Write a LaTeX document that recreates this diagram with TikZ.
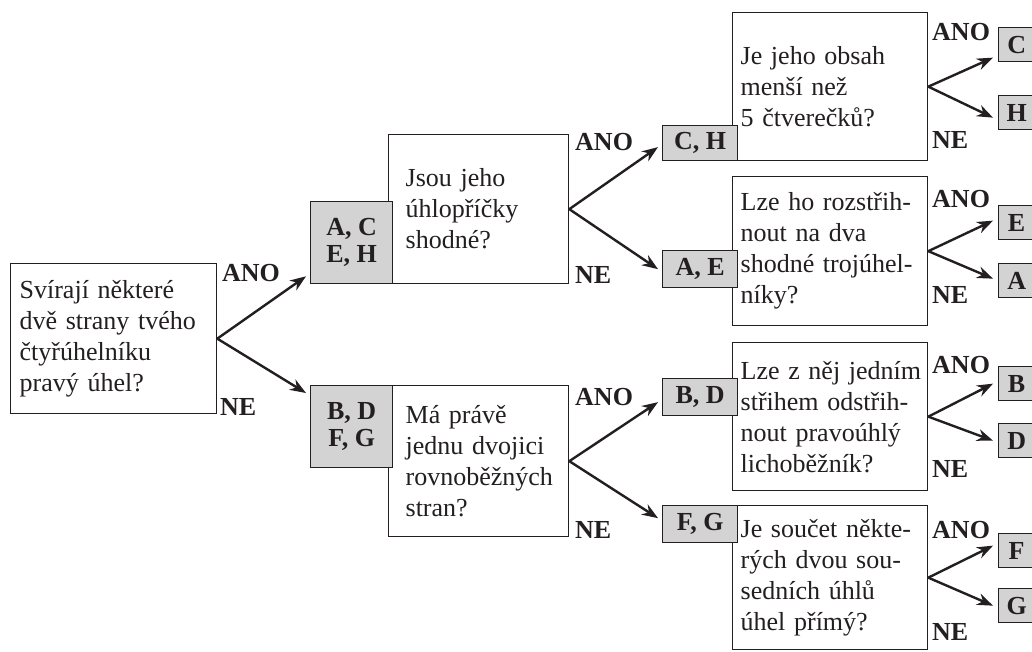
\documentclass[tikz,border=0pt]{standalone}
\usepackage{fontspec}
\setmainfont{Liberation Serif}
\usetikzlibrary{arrows.meta}
\definecolor{boxgray}{RGB}{211,211,211}
\definecolor{ink}{RGB}{35,31,32}
\tikzset{
  qbox/.style={draw=ink, line width=1.3pt, fill=white, anchor=north west, align=left,
    font=\fontsize{26}{31}\selectfont, text=ink, inner ysep=0pt},
  gbox/.style={draw=ink, line width=1.3pt, fill=boxgray, anchor=north west, align=center,
    font=\fontsize{26}{27}\selectfont\bfseries, text=ink, inner sep=0pt},
  lab/.style={font=\fontsize{26}{26}\selectfont\bfseries, anchor=base west, inner sep=0pt, text=ink},
  arr/.style={draw=ink, line width=2.4pt, -{Stealth[length=16pt,width=12pt]}},
}
\begin{document}
\begin{tikzpicture}[x=1pt,y=-1pt]
\clip (0,0) rectangle (1032,651);
% root
\node[qbox, text width=188pt, inner xsep=9pt, minimum height=150pt] (root) at (10,263)
  {\mbox{Svírají některé}\\\mbox{dvě strany tvého}\\čtyřúhelníku\\\mbox{pravý úhel?}};
% second level
\node[qbox, text width=146pt, inner xsep=17pt, minimum height=149pt] (q2) at (388,134)
  {\mbox{Jsou jeho}\\úhlopříčky\\shodné?};
\node[gbox, minimum width=82pt, minimum height=82pt] (ACEH) at (310,201) {A, C\\E, H};
\node[qbox, text width=146pt, inner xsep=17pt, minimum height=151pt] (q3) at (388,385)
  {\mbox{Má právě}\\\mbox{jednu dvojici}\\\mbox{rovnoběžných}\\stran?};
\node[gbox, minimum width=82pt, minimum height=82pt] (BDFG) at (310,385) {B, D\\F, G};
% third level
\node[qbox, text width=179pt, inner xsep=8pt, minimum height=148pt] (q4) at (732,12)
  {\mbox{Je jeho obsah}\\\mbox{menší než}\\\mbox{5 čtverečků?}};
\node[gbox, minimum width=75pt, minimum height=35pt] (CH) at (662,125) {C, H};
\node[qbox, text width=179pt, inner xsep=8pt, minimum height=149pt] (q5) at (732,176)
  {\mbox{Lze ho rozstřih-}\\\mbox{nout na dva}\\\mbox{shodné trojúhel-}\\níky?};
\node[gbox, minimum width=75pt, minimum height=37pt] (AE) at (662,250) {A, E};
\node[qbox, text width=179pt, inner xsep=8pt, minimum height=148pt] (q6) at (732,342)
  {\mbox{Lze z něj jedním}\\\mbox{střihem odstřih-}\\\mbox{nout pravoúhlý}\\lichoběžník?};
\node[gbox, minimum width=75pt, minimum height=37pt] (BD) at (662,378) {B, D};
\node[qbox, text width=179pt, inner xsep=8pt, minimum height=144pt] (q7) at (732,505)
  {\mbox{Je součet někte-}\\\mbox{rých dvou sou-}\\\mbox{sedních úhlů}\\\mbox{úhel přímý?}};
\node[gbox, minimum width=75pt, minimum height=37pt] (FG) at (662,505) {F, G};
% leaves
\node[gbox, minimum width=36pt, minimum height=34pt] (C) at (998,27) {C};
\node[gbox, minimum width=36pt, minimum height=34pt] (H) at (998,95) {H};
\node[gbox, minimum width=36pt, minimum height=34pt] (E) at (998,205) {E};
\node[gbox, minimum width=36pt, minimum height=34pt] (A) at (998,263) {A};
\node[gbox, minimum width=36pt, minimum height=34pt] (B) at (998,366) {B};
\node[gbox, minimum width=36pt, minimum height=34pt] (D) at (998,423) {D};
\node[gbox, minimum width=36pt, minimum height=34pt] (F) at (998,533) {F};
\node[gbox, minimum width=36pt, minimum height=34pt] (G) at (998,588) {G};
% labels
\node[lab] (l1a) at (222,281) {ANO};
\node[lab] (l1n) at (220,415) {NE};
\node[lab] (l2a) at (575,150) {ANO};
\node[lab] (l2n) at (575,283) {NE};
\node[lab] (l3a) at (575,405) {ANO};
\node[lab] (l3n) at (575,538) {NE};
\node[lab] (l4a) at (932,40) {ANO};
\node[lab] (l4n) at (932,148) {NE};
\node[lab] (l5a) at (932,207) {ANO};
\node[lab] (l5n) at (932,303) {NE};
\node[lab] (l6a) at (932,373) {ANO};
\node[lab] (l6n) at (932,477) {NE};
\node[lab] (l7a) at (932,538) {ANO};
\node[lab] (l7n) at (932,640) {NE};
% arrows
\draw[arr] (root.east) -- ([xshift=-4pt,yshift=8pt]ACEH.south west);
\draw[arr] (root.east) -- ([xshift=-4pt,yshift=-8pt]BDFG.north west);
\draw[arr] (q2.east) -- ([xshift=-4pt,yshift=-4pt]CH.west);
\draw[arr] (q2.east) -- ([xshift=-4pt]AE.west);
\draw[arr] (q3.east) -- ([xshift=-4pt,yshift=-5pt]BD.west);
\draw[arr] (q3.east) -- ([xshift=-4pt,yshift=6pt]FG.west);
\draw[arr] (q4.east) -- ([xshift=-5pt,yshift=-13pt]C.west);
\draw[arr] (q4.east) -- ([xshift=-5pt,yshift=-5pt]H.west);
\draw[arr] (q5.east) -- ([xshift=-5pt,yshift=2pt]E.west);
\draw[arr] (q5.east) -- ([xshift=-5pt,yshift=2pt]A.west);
\draw[arr] (q6.east) -- ([xshift=-5pt]B.west);
\draw[arr] (q6.east) -- ([xshift=-5pt]D.west);
\draw[arr] (q7.east) -- ([xshift=-5pt,yshift=5pt]F.west);
\draw[arr] (q7.east) -- ([xshift=-5pt]G.west);
\end{tikzpicture}
\end{document}
